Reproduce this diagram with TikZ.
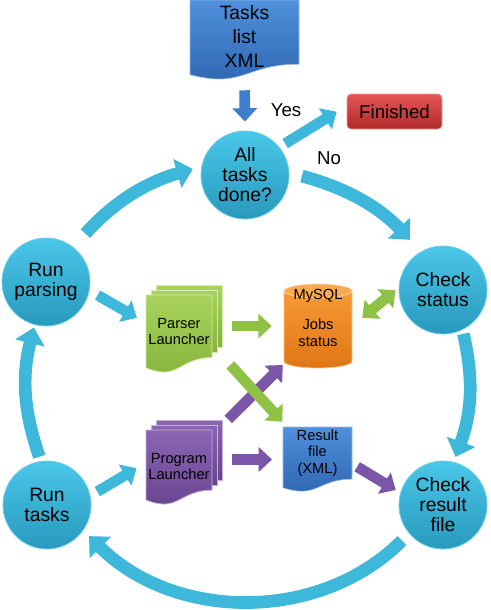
\documentclass[tikz,border=0pt]{standalone}
\usepackage{fontspec}
\setmainfont{Liberation Sans}
\usetikzlibrary{arrows.meta,calc}
\definecolor{cyanA}{HTML}{3DB7DA}
\definecolor{circTop}{HTML}{4AC7E9}
\definecolor{circBot}{HTML}{2899BD}
\definecolor{circEdge}{HTML}{6BD0EC}
\definecolor{grnA}{HTML}{8FC145}
\definecolor{grnTop}{HTML}{A8D45E}
\definecolor{grnBot}{HTML}{84B23A}
\definecolor{purA}{HTML}{7B55A8}
\definecolor{purTop}{HTML}{8A65B3}
\definecolor{purBot}{HTML}{67428F}
\definecolor{bluTop}{HTML}{4F90DC}
\definecolor{bluBot}{HTML}{2D63AF}
\definecolor{bluA}{HTML}{3F7ECD}
\definecolor{redTop}{HTML}{E45656}
\definecolor{redBot}{HTML}{B02929}
\definecolor{orgTop}{HTML}{F79A35}
\definecolor{orgBot}{HTML}{DE7514}
\definecolor{orgCap}{HTML}{F9A94E}

% document shape: x0 y0 x1 y1 style
\newcommand\mydoc[5]{\path[#5] (#1,#2) -- (#3,#2) -- (#3,{#2+0.802*(#4-#2)}) .. controls ({(#1+#3)/2},{#2+0.802*(#4-#2)}) and ({(#1+#3)/2},{#2+1.108*(#4-#2)}) .. (#1,{#2+0.934*(#4-#2)}) -- cycle;}
\newcommand\mymulti[5]{%
\path[#5] ({#1+10},{#2-10}) rectangle ({#3+10},{#2-10+0.802*(#4-#2)});
\path[#5] ({#1+5},{#2-5}) rectangle ({#3+5},{#2-5+0.802*(#4-#2)});
\mydoc{#1}{#2}{#3}{#4}{#5}}

\begin{document}
\begin{tikzpicture}[x=0.75pt,y=-0.75pt,
  circ/.style={circle, minimum size=66pt, inner sep=0pt, top color=circTop, bottom color=circBot, draw=circEdge, line width=0.6pt, align=center, font=\fontsize{14.5}{15}\selectfont},
  box/.style={rectangle, inner sep=0pt, draw=none},
  midtxt/.style={align=center, inner sep=0pt, font=\fontsize{11}{12.7}\selectfont},
  docblue/.style={top color=bluTop, bottom color=bluBot, draw=bluTop!60!white, line width=0.5pt},
  docgreen/.style={top color=grnTop, bottom color=grnBot, draw=grnTop!50!white, line width=0.6pt},
  docpurple/.style={top color=purTop, bottom color=purBot, draw=purTop!50!white, line width=0.6pt},
  cycarrow/.style={draw=cyanA, line width=9.5pt, -{Triangle[width=22pt,length=12pt]}},
  blockarrow/.style={line width=8pt, -{Triangle[width=18pt,length=10pt]}}
]
\useasboundingbox (0,0) rectangle (490,610);

% shapes
\mydoc{190}{0}{299}{80}{docblue}
\mymulti{146}{295}{212}{373}{docgreen}
\mymulti{146}{430}{212}{505}{docpurple}
\mydoc{283}{427}{352}{492}{docblue}
% cylinder
\path[top color=orgTop, bottom color=orgBot, draw=orgTop!60!white, line width=0.5pt] (284,291) -- (284,361) .. controls (284,370.3) and (352,370.3) .. (352,361) -- (352,291) -- cycle;
\path[fill=orgCap, draw=orgTop!40!white, line width=0.5pt] (318,291) ellipse [x radius=34, y radius=7];

% nodes
\node[box, minimum width=81.75pt, minimum height=60pt] (tasks) at (244.5,40) {};
\node[align=center, font=\fontsize{14.5}{18}\selectfont] (tasksT) at (244.5,36) {Tasks\\list\\XML};
\node[circ] (atd) at (245,175) {All\\tasks\\done?};
\node[circ] (cs) at (443,290) {Check\\status};
\node[circ] (crf) at (443,505) {Check\\result\\file};
\node[circ] (rt) at (47,505) {Run\\tasks};
\node[circ] (rp) at (46,282) {Run\\parsing};
\node[rectangle, rounded corners=3pt, minimum width=71.25pt, minimum height=26.25pt, top color=redTop, bottom color=redBot, draw=redTop!60!white, line width=0.5pt, font=\fontsize{14}{16}\selectfont] (fin) at (394.5,111.5) {Finished};
\node[font=\fontsize{14}{16}\selectfont] (yes) at (286,110) {Yes};
\node[font=\fontsize{14}{16}\selectfont] (no) at (329,158) {No};

\node[box, minimum width=49.5pt, minimum height=56.25pt] (parser) at (179,332.5) {};
\node[midtxt] (parserT) at (179,331.5) {Parser\\Launcher};
\node[box, minimum width=49.5pt, minimum height=56.25pt] (program) at (179,467.5) {};
\node[midtxt] (programT) at (179,466.5) {Program\\Launcher};
\node[box, minimum width=51.75pt, minimum height=48.75pt] (result) at (317.5,459.5) {};
\node[midtxt, font=\fontsize{11}{12.4}\selectfont] (resultT) at (317.5,453) {Result\\file\\(XML)};
\node[box, minimum width=51pt, minimum height=63pt] (mysql) at (318,326) {};
\node[midtxt] (mysqlT) at (318,296) {MySQL};
\node[midtxt] (jobsT) at (318,333) {Jobs\\status};

% cycle arrows
\draw[cycarrow, shorten <=13.5pt, shorten >=6.75pt] (rp.52) to[out=48, in=196] (atd.169);
\draw[cycarrow, shorten <=9.75pt, shorten >=12pt] (atd.3) to[out=-15, in=133] (cs.120);
\draw[cycarrow, shorten <=3pt, shorten >=4pt] (cs.-64) to[out=-77, in=70] (crf.76);
\draw[cycarrow, shorten <=7.5pt, shorten >=6pt] (crf.220) to[out=225, in=-45] (rt.325);
\draw[cycarrow, shorten <=3.4pt, shorten >=2pt] (rt.98) to[out=109, in=256] (rp.255);

% other arrows
\draw[blockarrow, draw=bluA, shorten <=7.5pt, shorten >=6.75pt] (tasks.south) -- (atd.north);
\draw[blockarrow, draw=cyanA, shorten <=5pt, shorten >=8.8pt] (atd.39) -- (fin.173);
\draw[blockarrow, draw=cyanA, shorten <=7pt, shorten >=7.7pt] (rp.-11) -- (parser.164);
\draw[blockarrow, draw=cyanA, shorten <=6pt, shorten >=8pt] (rt.12) -- (program.172);
\draw[blockarrow, draw=grnA, shorten <=15pt, shorten >=9pt] (parser.east |- mysql.west) -- (mysql.west);
\draw[blockarrow, draw=purA, shorten <=17pt, shorten >=1pt] (program.44) -- (mysql.228);
\draw[blockarrow, draw=grnA, shorten <=20pt, shorten >=5pt] (parser.-21) -- (result.133);
\draw[blockarrow, draw=purA, shorten <=15pt, shorten >=8pt] (program.east |- result.west) -- (result.west);
\draw[blockarrow, draw=purA, shorten <=4.3pt, shorten >=4pt] (result.-7) -- (crf.164);
\draw[line width=8pt, draw=grnA, {Triangle[width=18pt,length=10pt]}-{Triangle[width=18pt,length=10pt]}, shorten <=9.7pt, shorten >=3pt] (mysql.east) -- (cs.177);
\end{tikzpicture}
\end{document}
